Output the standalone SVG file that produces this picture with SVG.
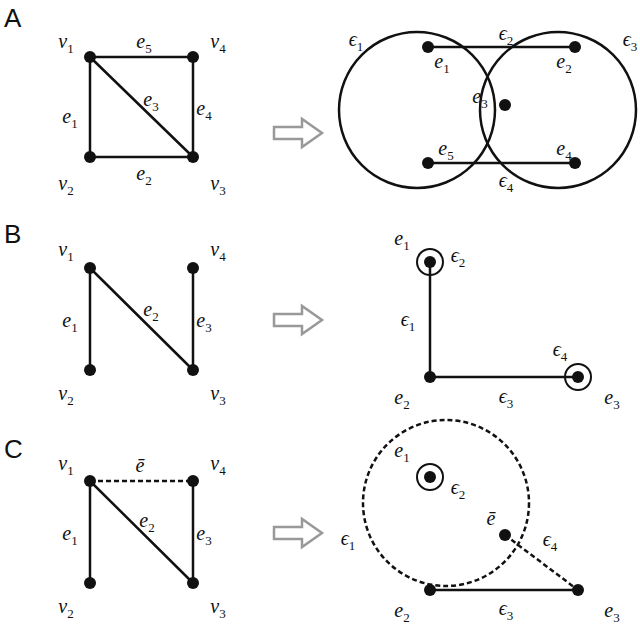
<svg xmlns="http://www.w3.org/2000/svg" width="640" height="628" viewBox="0 0 640 628">
<style>
.e{stroke:#111;stroke-width:2.5;fill:none}
.d{stroke:#111;stroke-width:2.5;fill:none;stroke-dasharray:5,3}
.n{fill:#111}
.r{stroke:#111;stroke-width:2;fill:none}
text{font-family:"Liberation Serif",serif;font-style:italic;font-size:20px;fill:#111;text-anchor:middle}
.s{font-size:13px;font-style:normal}
.p{font-family:"Liberation Sans",sans-serif;font-style:normal;font-size:26px;text-anchor:start}
.a{fill:#fff;stroke:#999;stroke-width:2.5}
</style>
<rect width="640" height="628" fill="#fff"/>
<text class="p" x="4" y="27">A</text>
<text class="p" x="4" y="243">B</text>
<text class="p" x="4" y="458">C</text>
<g id="connectors">
<path class="e" d="M90 57H193V157H90ZM90 57L193 157"/>
<path class="e" d="M428 47H575M428 163H575"/>
<circle class="e" cx="417" cy="110" r="78"/>
<circle class="e" cx="558" cy="110" r="78"/>
<path class="e" d="M90 268V370M90 268L193 370M193 268V370"/>
<path class="e" d="M430 262V377H578"/>
<path class="d" d="M90 481H193"/>
<path class="e" d="M90 481V583M90 481L193 583M193 481V583"/>
<circle class="d" cx="446" cy="503" r="83"/>
<path class="d" d="M505 535L578 590"/>
<path class="e" d="M430 590H578"/>
<path class="a" d="M274 127H302V119L322 133L302 147V139H274Z"/>
<path class="a" d="M274 314H302V306L322 320L302 334V326H274Z"/>
<path class="a" d="M274 527H302V519L322 533L302 547V539H274Z"/>
</g>
<g id="nodesA" class="n">
<circle cx="90" cy="57" r="6"/><circle cx="193" cy="57" r="6"/><circle cx="90" cy="157" r="6"/><circle cx="193" cy="157" r="6"/>
<circle cx="428" cy="47" r="6"/><circle cx="575" cy="47" r="6"/><circle cx="428" cy="163" r="6"/><circle cx="575" cy="163" r="6"/><circle cx="505" cy="105" r="6"/>
</g>
<g id="nodesB">
<g class="n"><circle cx="90" cy="268" r="6"/><circle cx="193" cy="268" r="6"/><circle cx="90" cy="370" r="6"/><circle cx="193" cy="370" r="6"/>
<circle cx="430" cy="262" r="6"/><circle cx="430" cy="377" r="6"/><circle cx="578" cy="377" r="6"/></g>
<circle class="r" cx="430" cy="262" r="13"/><circle class="r" cx="578" cy="377" r="13"/>
</g>
<g id="nodesC">
<g class="n"><circle cx="90" cy="481" r="6"/><circle cx="193" cy="481" r="6"/><circle cx="90" cy="583" r="6"/><circle cx="193" cy="583" r="6"/>
<circle cx="430" cy="477" r="6"/><circle cx="505" cy="535" r="6"/><circle cx="430" cy="590" r="6"/><circle cx="578" cy="590" r="6"/></g>
<circle class="r" cx="430" cy="477" r="13"/>
</g>
<g id="labels">
<text x="66" y="48">v<tspan class="s" dy="5">1</tspan></text>
<text x="144" y="48">e<tspan class="s" dy="5">5</tspan></text>
<text x="218" y="48">v<tspan class="s" dy="5">4</tspan></text>
<text x="70" y="123">e<tspan class="s" dy="5">1</tspan></text>
<text x="151" y="106">e<tspan class="s" dy="5">3</tspan></text>
<text x="204" y="115">e<tspan class="s" dy="5">4</tspan></text>
<text x="66" y="190">v<tspan class="s" dy="5">2</tspan></text>
<text x="144" y="180">e<tspan class="s" dy="5">2</tspan></text>
<text x="218" y="190">v<tspan class="s" dy="5">3</tspan></text>
<text x="356" y="46">ϵ<tspan class="s" dy="5">1</tspan></text>
<text x="506" y="40">ϵ<tspan class="s" dy="5">2</tspan></text>
<text x="630" y="46">ϵ<tspan class="s" dy="5">3</tspan></text>
<text x="442" y="68">e<tspan class="s" dy="5">1</tspan></text>
<text x="564" y="68">e<tspan class="s" dy="5">2</tspan></text>
<text x="480" y="103">e<tspan class="s" dy="5">3</tspan></text>
<text x="446" y="155">e<tspan class="s" dy="5">5</tspan></text>
<text x="564" y="155">e<tspan class="s" dy="5">4</tspan></text>
<text x="506" y="187">ϵ<tspan class="s" dy="5">4</tspan></text>
<text x="66" y="256">v<tspan class="s" dy="5">1</tspan></text>
<text x="218" y="256">v<tspan class="s" dy="5">4</tspan></text>
<text x="70" y="327">e<tspan class="s" dy="5">1</tspan></text>
<text x="151" y="316">e<tspan class="s" dy="5">2</tspan></text>
<text x="204" y="327">e<tspan class="s" dy="5">3</tspan></text>
<text x="66" y="400">v<tspan class="s" dy="5">2</tspan></text>
<text x="218" y="400">v<tspan class="s" dy="5">3</tspan></text>
<text x="402" y="245">e<tspan class="s" dy="5">1</tspan></text>
<text x="458" y="262">ϵ<tspan class="s" dy="5">2</tspan></text>
<text x="408" y="326">ϵ<tspan class="s" dy="5">1</tspan></text>
<text x="402" y="404">e<tspan class="s" dy="5">2</tspan></text>
<text x="506" y="403">ϵ<tspan class="s" dy="5">3</tspan></text>
<text x="560" y="356">ϵ<tspan class="s" dy="5">4</tspan></text>
<text x="612" y="404">e<tspan class="s" dy="5">3</tspan></text>
<text x="66" y="470">v<tspan class="s" dy="5">1</tspan></text>
<text x="140" y="472">ē</text>
<text x="218" y="470">v<tspan class="s" dy="5">4</tspan></text>
<text x="70" y="540">e<tspan class="s" dy="5">1</tspan></text>
<text x="147" y="527">e<tspan class="s" dy="5">2</tspan></text>
<text x="204" y="540">e<tspan class="s" dy="5">3</tspan></text>
<text x="66" y="613">v<tspan class="s" dy="5">2</tspan></text>
<text x="218" y="613">v<tspan class="s" dy="5">3</tspan></text>
<text x="402" y="457">e<tspan class="s" dy="5">1</tspan></text>
<text x="458" y="494">ϵ<tspan class="s" dy="5">2</tspan></text>
<text x="491" y="525">ē</text>
<text x="550" y="546">ϵ<tspan class="s" dy="5">4</tspan></text>
<text x="348" y="545">ϵ<tspan class="s" dy="5">1</tspan></text>
<text x="402" y="617">e<tspan class="s" dy="5">2</tspan></text>
<text x="506" y="615">ϵ<tspan class="s" dy="5">3</tspan></text>
<text x="612" y="617">e<tspan class="s" dy="5">3</tspan></text>
</g>
</svg>
